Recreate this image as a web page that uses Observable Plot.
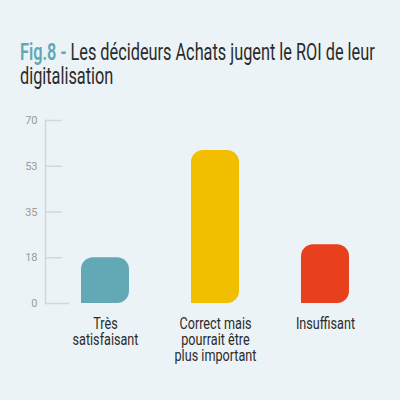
<!DOCTYPE html>
<html><head><meta charset="utf-8">
<script src="https://cdn.jsdelivr.net/npm/d3@7"></script>
<script src="https://cdn.jsdelivr.net/npm/@observablehq/plot@0.6"></script>
<style>
html,body{margin:0;padding:0;background:#ecf3f6;}
#wrap{width:400px;height:400px;overflow:hidden;background:#ecf3f6;position:relative;}
#title{position:absolute;left:20px;top:41px;font-family:Roboto,sans-serif;font-size:23px;line-height:24px;color:#2b2b2b;white-space:nowrap;transform-origin:0 0;}
#title .fig{color:#5ea9b8;font-weight:600;}
#chart{position:absolute;left:0;top:95px;}
</style></head>
<body><div id="wrap"><div id="title"><span class="fig">Fig.8 - </span>Les décideurs Achats jugent le ROI de leur<br>digitalisation</div><div id="chart"></div></div>
<script>
const categories = ["Très\nsatisfaisant", "Correct mais\npourrait être\nplus important", "Insuffisant"];
const values = [17.5, 58.5, 22.5];
const colors = ["#62a8b5", "#f2bf00", "#e8401c"];
const yTicks = [0, 17.5, 35, 52.5, 70];
const yTickLabels = ["0", "18", "35", "53", "70"];

const data = categories.map((c, i) => ({cat: c, value: values[i], color: colors[i]}));

// title condensing to mimic a condensed typeface
const title = document.getElementById("title");
title.style.transform = `scaleX(${355 / title.offsetWidth})`;

const W = 400, H = 305, mL = 45, mR = 15;
const innerW = W - mL - mR;
const axisColor = "#d3d7d9";

const chart = Plot.plot({
  width: W, height: H,
  marginTop: 25, marginBottom: 97, marginLeft: mL, marginRight: mR,
  style: {fontFamily: "Roboto, sans-serif", background: "transparent"},
  x: {domain: categories, paddingInner: 0.5636, paddingOuter: 0.327, label: null},
  y: {domain: [0, 70], label: null},
  color: {type: "identity"},
  marks: [
    Plot.frame({anchor: "left", stroke: axisColor, strokeWidth: 1.5}),
    Plot.ruleY(yTicks.slice(1), {stroke: axisColor, strokeWidth: 1.5, insetRight: innerW - 17}),
    Plot.barY(data, {x: "cat", y: "value", fill: "color", r: 12, rx1y2: 0}),
    Plot.ruleY([0], {stroke: axisColor, strokeWidth: 1.5, insetRight: innerW - 24}),
    Plot.axisY({ticks: yTicks, label: null, tickFormat: (d) => yTickLabels[yTicks.indexOf(d)], tickSize: 0, tickPadding: 8, fill: "#9a9a9a", fontSize: 11}),
    Plot.axisX({label: null, tickSize: 0, tickPadding: 14, fontSize: 17, fill: "#2b2b2b", lineHeight: 0.95})
  ]
});
document.getElementById("chart").appendChild(chart);

// horizontally condense x labels
const ctx = document.createElement("canvas").getContext("2d");
ctx.font = "17px Roboto";
const k = 82 / ctx.measureText("plus important").width;
chart.querySelectorAll('[aria-label="x-axis tick label"] text').forEach(t => {
  const tr = t.getAttribute("transform") || "";
  t.setAttribute("transform", tr + ` scale(${k},1)`);
});
</script>
</body></html>
